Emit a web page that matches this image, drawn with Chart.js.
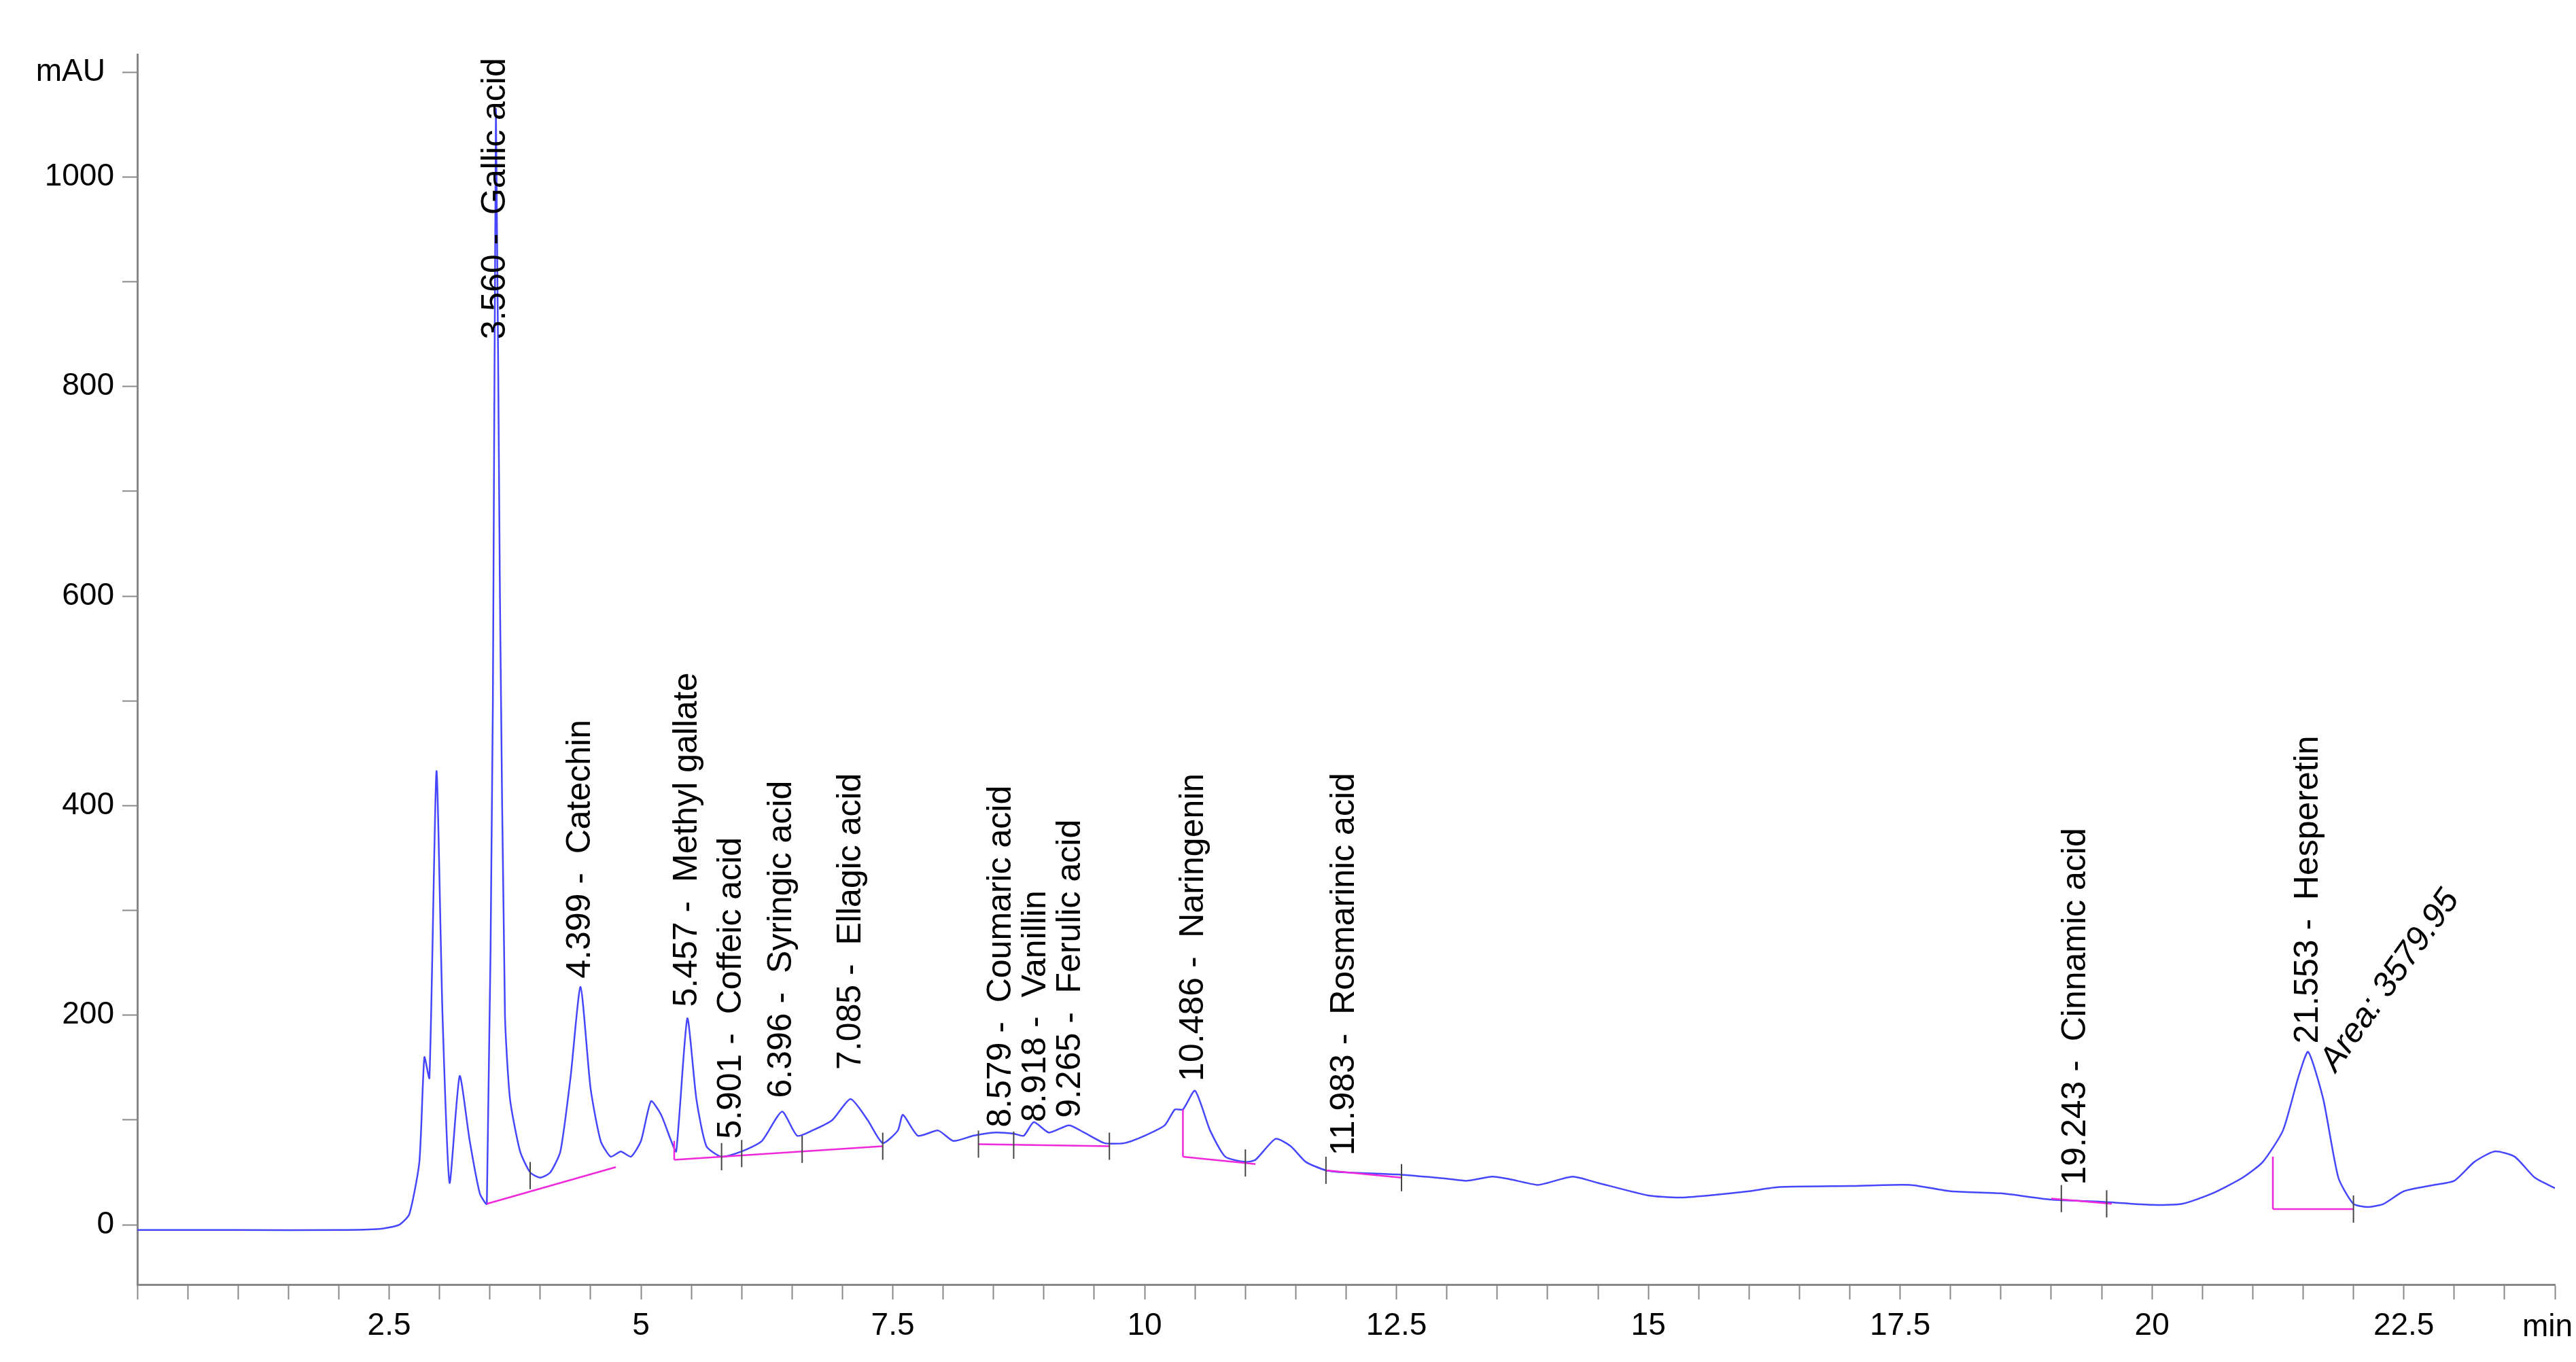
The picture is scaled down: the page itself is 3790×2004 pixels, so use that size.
<!DOCTYPE html>
<html>
<head>
<meta charset="utf-8">
<script src="https://cdn.jsdelivr.net/npm/chart.js@4/dist/chart.umd.min.js"></script>
<style>
  html, body { margin: 0; padding: 0; background: #fff; }
  #wrap { width: 3790px; height: 2004px; }
</style>
</head>
<body>
<div id="wrap"><canvas id="chrom" width="3790" height="2004"></canvas></div>
<script>
// chromatogram trace: retention time (min), absorbance (mAU)
const traceTimes = [0, 1, 2, 2.4, 2.6, 2.7, 2.8, 2.85, 2.9, 2.97, 3.03, 3.1, 3.2, 3.3, 3.4, 3.47, 3.53, 3.56, 3.6, 3.65, 3.7, 3.8, 3.9, 4.0, 4.1, 4.2, 4.3, 4.4, 4.5, 4.6, 4.7, 4.8, 4.9, 5.0, 5.1, 5.2, 5.3, 5.35, 5.46, 5.55, 5.65, 5.8, 6.0, 6.2, 6.4, 6.55, 6.7, 6.9, 7.08, 7.25, 7.4, 7.55, 7.6, 7.75, 7.95, 8.1, 8.3, 8.5, 8.7, 8.8, 8.9, 9.05, 9.25, 9.4, 9.6, 9.8, 10.0, 10.2, 10.3, 10.38, 10.5, 10.65, 10.8, 11.0, 11.1, 11.3, 11.45, 11.6, 11.8, 12.0, 12.5, 13.0, 13.2, 13.45, 13.6, 13.9, 14.0, 14.25, 14.5, 15.0, 15.3, 15.6, 16.0, 16.3, 17.0, 17.6, 18.0, 18.5, 19.0, 19.5, 20.0, 20.3, 20.6, 20.9, 21.1, 21.3, 21.45, 21.55, 21.7, 21.85, 22.0, 22.15, 22.3, 22.5, 22.8, 23.0, 23.2, 23.4, 23.6, 23.8, 24.0];
const traceValues = [-5, -5, -5, -4, 0, 10, 60, 160, 140, 433, 200, 40, 142, 80, 30, 20, 500, 1065, 600, 200, 120, 70, 50, 45, 50, 70, 140, 227, 130, 80, 65, 70, 65, 80, 118, 105, 80, 70, 197, 120, 75, 65, 70, 80, 108, 85, 90, 100, 120, 100, 78, 90, 105, 85, 90, 80, 85, 88, 87, 85, 98, 88, 95, 88, 78, 78, 85, 95, 110, 110, 128, 90, 65, 60, 62, 82, 75, 60, 52, 50, 48, 44, 42, 46, 44, 38, 40, 46, 40, 28, 26, 28, 32, 36, 37, 38, 32, 30, 24, 22, 19, 20, 30, 45, 60, 90, 140, 165, 120, 45, 20, 17, 20, 32, 38, 42, 60, 70, 65, 45, 35];

// peak annotations: time where text sits, mAU where text starts, text
const peakTimes = [3.56, 4.399, 5.457, 5.901, 6.396, 7.085, 8.579, 8.918, 9.265, 10.486, 11.983, 19.243, 21.553];
const peakLabelBase = [845, 235, 208, 82, 121, 148, 93, 98, 102, 137, 66, 38, 173];
const peakNames = ['Gallic acid', 'Catechin', 'Methyl gallate', 'Coffeic acid', 'Syringic acid', 'Ellagic acid', 'Coumaric acid', 'Vanillin', 'Ferulic acid', 'Naringenin', 'Rosmarinic acid', 'Cinnamic acid', 'Hesperetin'];

// integration baselines [t1, v1, t2, v2]
const baselines = [
  [3.47, 20, 4.75, 55],
  [5.33, 80, 5.33, 62], [5.33, 62, 7.4, 75],
  [8.35, 77, 9.65, 75],
  [10.38, 110, 10.38, 65], [10.38, 65, 11.1, 58],
  [11.8, 52, 12.55, 45],
  [19.0, 25, 19.6, 20],
  [21.2, 65, 21.2, 15], [21.2, 15, 22.0, 15]
];
// integration marker ticks (time, mAU)
const markTimes = [3.9, 5.8, 6.0, 6.6, 7.4, 8.35, 8.7, 9.65, 11.0, 11.8, 12.55, 19.1, 19.55, 22.0];
const markValues = [47, 65, 68, 72, 75, 77, 76, 75, 59, 52, 45, 25, 20, 15];

const areaText = 'Area: 3579.95';
const areaTime = 21.75, areaValue = 150;

const annot = {
  id: 'annot',
  afterDatasetsDraw(chart) {
    const ctx = chart.ctx, x = chart.scales.x, y = chart.scales.y;
    ctx.save();
    ctx.lineWidth = 2.5;
    ctx.strokeStyle = 'rgb(240,40,220)';
    baselines.forEach(b => {
      ctx.beginPath();
      ctx.moveTo(x.getPixelForValue(b[0]), y.getPixelForValue(b[1]));
      ctx.lineTo(x.getPixelForValue(b[2]), y.getPixelForValue(b[3]));
      ctx.stroke();
    });
    ctx.strokeStyle = '#444';
    ctx.lineWidth = 2;
    markTimes.forEach((t, i) => {
      const px = x.getPixelForValue(t), py = y.getPixelForValue(markValues[i]);
      ctx.beginPath(); ctx.moveTo(px, py - 20); ctx.lineTo(px, py + 20); ctx.stroke();
    });
    ctx.fillStyle = '#000';
    ctx.font = '50px "Liberation Sans", Arial, sans-serif';
    ctx.textBaseline = 'middle';
    ctx.textAlign = 'left';
    peakTimes.forEach((t, i) => {
      ctx.save();
      ctx.translate(x.getPixelForValue(t), y.getPixelForValue(peakLabelBase[i]));
      ctx.rotate(-Math.PI / 2);
      ctx.fillText(t.toFixed(3) + ' -  ' + peakNames[i], 0, 0);
      ctx.restore();
    });
    ctx.save();
    ctx.translate(x.getPixelForValue(areaTime), y.getPixelForValue(areaValue));
    ctx.rotate(-Math.PI / 3.3);
    ctx.font = 'italic 50px "Liberation Sans", Arial, sans-serif';
    ctx.fillText(areaText, 0, 0);
    ctx.restore();
    // axis unit labels
    ctx.font = '46px "Liberation Sans", Arial, sans-serif';
    ctx.textAlign = 'right';
    ctx.fillText('mAU', 155, y.getPixelForValue(1100));
    ctx.textBaseline = 'top';
    ctx.fillText('min', 3785, chart.chartArea.bottom + 40);
    ctx.restore();
  }
};

new Chart(document.getElementById('chrom'), {
  type: 'line',
  data: {
    datasets: [{
      data: traceTimes.map((t, i) => ({ x: t, y: traceValues[i] })),
      borderColor: 'rgb(70,70,255)',
      borderWidth: 2.5,
      pointRadius: 0,
      tension: 0.2,
      fill: false
    }]
  },
  options: {
    responsive: false,
    animation: false,
    devicePixelRatio: 1,
    layout: { padding: { top: 80, right: 31, left: 0, bottom: 0 } },
    plugins: { legend: { display: false }, tooltip: { enabled: false } },
    scales: {
      x: {
        type: 'linear', min: 0, max: 24,
        grid: { drawOnChartArea: false, color: '#888', tickLength: 22, tickWidth: 2 },
        border: { color: '#888', width: 3 },
        ticks: {
          stepSize: 0.5, autoSkip: false, maxRotation: 0, padding: 12,
          color: '#000', font: { size: 46, family: '"Liberation Sans", Arial' },
          callback: v => (v > 0 && v < 24 && Math.abs(v / 2.5 - Math.round(v / 2.5)) < 1e-6) ? String(v) : ''
        },
        afterFit: s => { s.height = 114; }
      },
      y: {
        type: 'linear', min: -57, max: 1117,
        grid: { drawOnChartArea: false, color: '#888', tickLength: 22, tickWidth: 2 },
        border: { color: '#888', width: 3 },
        afterBuildTicks: s => {
          const t = [];
          for (let v = 0; v <= 1100; v += 100) t.push({ value: v });
          s.ticks = t;
        },
        ticks: {
          autoSkip: false, padding: 12,
          color: '#000', font: { size: 46, family: '"Liberation Sans", Arial' },
          callback: v => (v % 200 === 0 && v <= 1000) ? String(v) : ''
        },
        afterFit: s => { s.width = 202; }
      }
    }
  },
  plugins: [annot]
});
</script>
</body>
</html>
